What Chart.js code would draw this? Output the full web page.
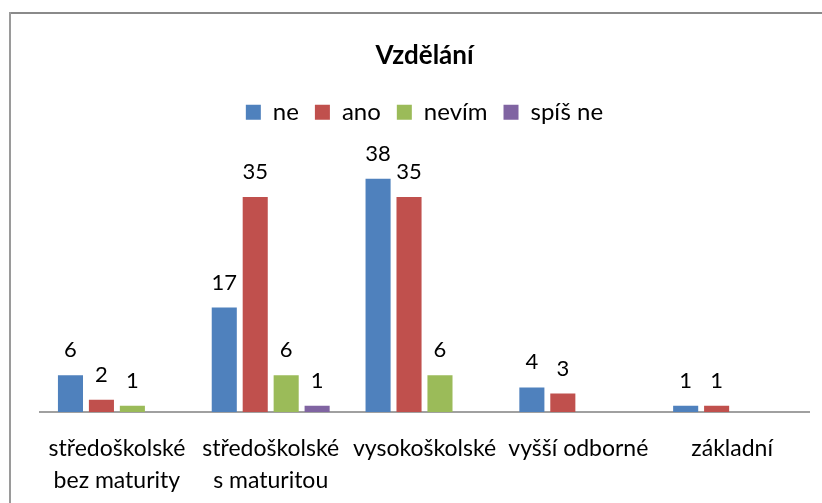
<!DOCTYPE html>
<html>
<head>
<meta charset="utf-8">
<script src="https://cdn.jsdelivr.net/npm/chart.js@4/dist/chart.umd.min.js"></script>
<style>
  html, body { margin: 0; padding: 0; background: #fff; }
  #wrap { width: 822px; height: 503px; position: relative; }
</style>
</head>
<body>
<div id="wrap"><canvas id="barChart"></canvas></div>
<script>
var categories = [
  ["středoškolské", "bez maturity"],
  ["středoškolské", "s maturitou"],
  ["vysokoškolské"],
  ["vyšší odborné"],
  ["základní"]
];
var seriesNames = ["ne", "ano", "nevím", "spíš ne"];
var neValues = [6, 17, 38, 4, 1];
var anoValues = [2, 35, 35, 3, 1];
var nevimValues = [1, 6, 6, null, null];
var spisNeValues = [null, 1, null, null, null];
var seriesColors = ["#4F81BD", "#C0504D", "#9BBB59", "#8064A2"];

var FONT = "Lato, 'Open Sans', sans-serif";

// frame of the chart (only top and left edge visible in the crop)
var framePlugin = {
  id: 'frame',
  beforeDraw: function(chart) {
    var ctx = chart.ctx;
    ctx.save();
    ctx.fillStyle = '#fff';
    ctx.fillRect(0, 0, chart.width, chart.height);
    ctx.fillStyle = '#8a8a8a';
    ctx.fillRect(9, 12, chart.width, 2);
    ctx.fillStyle = '#9a9a9a';
    ctx.fillRect(9, 12, 2, chart.height);
    ctx.restore();
  }
};

// value labels above each bar
var valueLabels = {
  id: 'valueLabels',
  afterDatasetsDraw: function(chart) {
    var ctx = chart.ctx;
    ctx.save();
    ctx.font = "22px " + FONT;
    ctx.fillStyle = '#000';
    ctx.textAlign = 'center';
    ctx.textBaseline = 'alphabetic';
    chart.data.datasets.forEach(function(ds, i) {
      var meta = chart.getDatasetMeta(i);
      meta.data.forEach(function(bar, j) {
        var v = ds.data[j];
        if (v === null || v === undefined) return;
        ctx.fillText(String(v), bar.x, bar.y - 18);
      });
    });
    ctx.restore();
  }
};

var ctx = document.getElementById("barChart");
var myChart = new Chart(ctx, {
  type: 'bar',
  data: {
    labels: categories,
    datasets: [
      { label: seriesNames[0], data: neValues, backgroundColor: seriesColors[0] },
      { label: seriesNames[1], data: anoValues, backgroundColor: seriesColors[1] },
      { label: seriesNames[2], data: nevimValues, backgroundColor: seriesColors[2] },
      { label: seriesNames[3], data: spisNeValues, backgroundColor: seriesColors[3] }
    ]
  },
  options: {
    responsive: true,
    maintainAspectRatio: false,
    animation: false,
    layout: { padding: { left: 40, right: 13, top: 0, bottom: 0 } },
    datasets: {
      bar: { categoryPercentage: 0.805, barPercentage: 0.81, skipNull: false }
    },
    plugins: {
      title: {
        display: true,
        text: 'Vzdělání',
        color: '#000',
        font: { family: FONT, size: 26, weight: 'bold' },
        padding: { top: 40, bottom: 13 }
      },
      subtitle: {
        display: true,
        text: '',
        weight: 500,
        font: { size: 1 },
        padding: { top: 0, bottom: 31 }
      },
      legend: {
        position: 'top',
        labels: {
          color: '#000',
          boxWidth: 15,
          boxHeight: 15,
          padding: 16,
          font: { family: FONT, size: 24 }
        }
      },
      tooltip: { enabled: false }
    },
    scales: {
      x: {
        grid: { display: false, drawTicks: false },
        border: { display: true, color: '#a0a0a0', width: 2 },
        afterFit: function(scale) { scale.height = 91; },
        ticks: {
          color: '#000',
          padding: 20,
          maxRotation: 0,
          autoSkip: false,
          font: { family: FONT, size: 23, lineHeight: 1.4 }
        }
      },
      y: {
        display: false,
        min: 0,
        max: 40
      }
    }
  },
  plugins: [framePlugin, valueLabels]
});
</script>
</body>
</html>
